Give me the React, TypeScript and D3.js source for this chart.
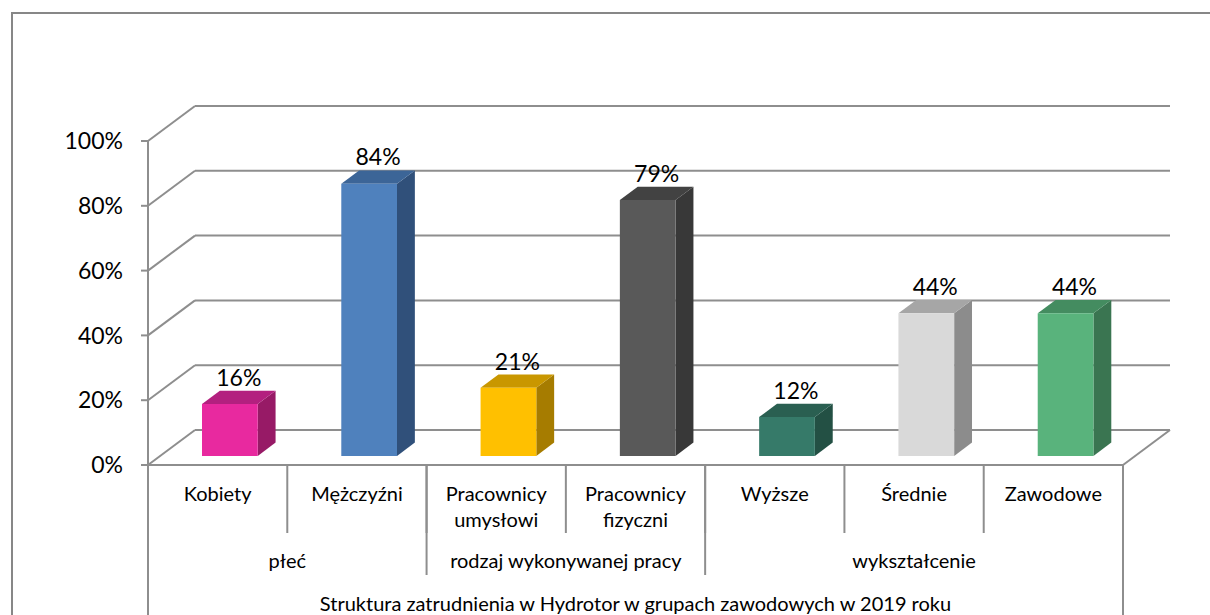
import React from "react";
import * as d3 from "d3";

// categories and values
const categories = [
  ["Kobiety"],
  ["Mężczyźni"],
  ["Pracownicy", "umysłowi"],
  ["Pracownicy", "fizyczni"],
  ["Wyższe"],
  ["Średnie"],
  ["Zawodowe"],
];
const values = [0.16, 0.84, 0.21, 0.79, 0.12, 0.44, 0.44];
const groups = [
  { name: "płeć", span: 2 },
  { name: "rodzaj wykonywanej pracy", span: 2 },
  { name: "wykształcenie", span: 3 },
];
const axisTitle = "Struktura zatrudnienia w Hydrotor w grupach zawodowych w 2019 roku";
const yTicks = [0, 0.2, 0.4, 0.6, 0.8, 1];

// front / side / top colours per bar
const palette = [
  ["#E8299F", "#971A66", "#B3207F"],
  ["#4F81BD", "#30507A", "#3C6597"],
  ["#FFC000", "#A67C00", "#C99700"],
  ["#595959", "#383838", "#424242"],
  ["#367A69", "#235044", "#2A5F51"],
  ["#D9D9D9", "#8C8C8C", "#A6A6A6"],
  ["#59B37C", "#3A7551", "#448C60"],
];

const W = 1210;
const H = 615;
const font = "Lato, 'Open Sans', sans-serif";
const grid = "#8E8E8E";

const App = () => {
  const x0 = 148;
  const x1 = 1123;
  const depth = { dx: 47, dy: -35 };
  const idx = categories.map((_, i) => i);
  const x = d3.scaleBand<number>().domain(idx).range([x0, x1]).padding(0);
  const y = d3.scaleLinear().domain([0, 1]).range([465, 141]);
  const bw = x.bandwidth();
  const barW = bw * 0.4;
  const f0 = 0.26;
  const f1 = 0.64;

  const pt = (px: number, py: number, f: number) => [px + depth.dx * f, py + depth.dy * f];
  const poly = (pts: number[][]) => pts.map((p) => p.join(",")).join(" ");

  const floorY = y(0);
  const row1 = 533;
  const row2 = 575;

  let acc = 0;
  const groupPos = groups.map((g) => {
    const start = x(acc)!;
    acc += g.span;
    const end = acc < categories.length ? x(acc)! : x1;
    return { ...g, start, end };
  });

  return (
    <svg
      width={W}
      height={H}
      style={{ position: "absolute", left: 0, top: 0, background: "#fff", display: "block" }}
    >
      <rect x={12} y={13} width={1300} height={700} fill="none" stroke="#878787" strokeWidth={2} />

      {/* walls and gridlines */}
      {yTicks.map((t) => {
        const [bx, by] = pt(x0, y(t), 1);
        return (
          <g key={t}>
            <line x1={x0} y1={y(t)} x2={bx} y2={by} stroke={grid} strokeWidth={2} />
            <line x1={bx} y1={by} x2={x1 + depth.dx} y2={by} stroke={grid} strokeWidth={2} />
          </g>
        );
      })}
      <line x1={x1} y1={floorY} x2={x1 + depth.dx} y2={floorY + depth.dy} stroke={grid} strokeWidth={2} />

      {/* y axis */}
      <line x1={x0} y1={y(1)} x2={x0} y2={H} stroke={grid} strokeWidth={2} />
      {yTicks.map((t) => (
        <g key={"t" + t}>
          <line x1={x0 - 7} y1={y(t)} x2={x0} y2={y(t)} stroke={grid} strokeWidth={2} />
          <text
            x={123}
            y={y(t)}
            dy="0.36em"
            textAnchor="end"
            fontFamily={font}
            fontSize={23}
            fill="#000"
          >
            {d3.format(".0%")(t)}
          </text>
        </g>
      ))}

      {/* bars */}
      {values.map((v, i) => {
        const cx = x(i)! + bw / 2;
        const l = cx - barW / 2;
        const r = cx + barW / 2;
        const b = y(0);
        const tp = y(v);
        const [c1, c2, c3] = palette[i];
        const A = pt(l, tp, f0);
        const B = pt(r, tp, f0);
        const C = pt(r, b, f0);
        const D = pt(l, b, f0);
        const B2 = pt(r, tp, f1);
        const C2 = pt(r, b, f1);
        const A2 = pt(l, tp, f1);
        return (
          <g key={i}>
            <polygon points={poly([B, B2, C2, C])} fill={c2} />
            <polygon points={poly([A, A2, B2, B])} fill={c3} />
            <polygon points={poly([A, B, C, D])} fill={c1} />
            <text
              x={(A[0] + B2[0]) / 2}
              y={A2[1] - 5}
              textAnchor="middle"
              fontFamily={font}
              fontSize={23}
              fill="#000"
            >
              {d3.format(".0%")(v)}
            </text>
          </g>
        );
      })}

      {/* category table */}
      <line x1={x0} y1={floorY} x2={x1} y2={floorY} stroke={grid} strokeWidth={2} />
      <line x1={x1} y1={floorY} x2={x1} y2={H} stroke={grid} strokeWidth={2} />
      {idx.slice(1).map((i) => (
        <line key={"d" + i} x1={x(i)} y1={floorY} x2={x(i)} y2={row1} stroke={grid} strokeWidth={2} />
      ))}
      {groupPos.slice(1).map((g) => (
        <line key={"g" + g.name} x1={g.start} y1={floorY} x2={g.start} y2={row2} stroke={grid} strokeWidth={2} />
      ))}
      {categories.map((lines, i) => (
        <text
          key={"c" + i}
          x={x(i)! + bw / 2}
          textAnchor="middle"
          fontFamily={font}
          fontSize={20}
          fill="#000"
        >
          {lines.map((s, k) => (
            <tspan key={k} x={x(i)! + bw / 2} y={501 + k * 26}>
              {s}
            </tspan>
          ))}
        </text>
      ))}
      {groupPos.map((g) => (
        <text
          key={"gl" + g.name}
          x={(g.start + g.end) / 2}
          y={568}
          textAnchor="middle"
          fontFamily={font}
          fontSize={20}
          fill="#000"
        >
          {g.name}
        </text>
      ))}
      <text x={(x0 + x1) / 2} y={611} textAnchor="middle" fontFamily={font} fontSize={20} fill="#000">
        {axisTitle}
      </text>
    </svg>
  );
};

export default App;
